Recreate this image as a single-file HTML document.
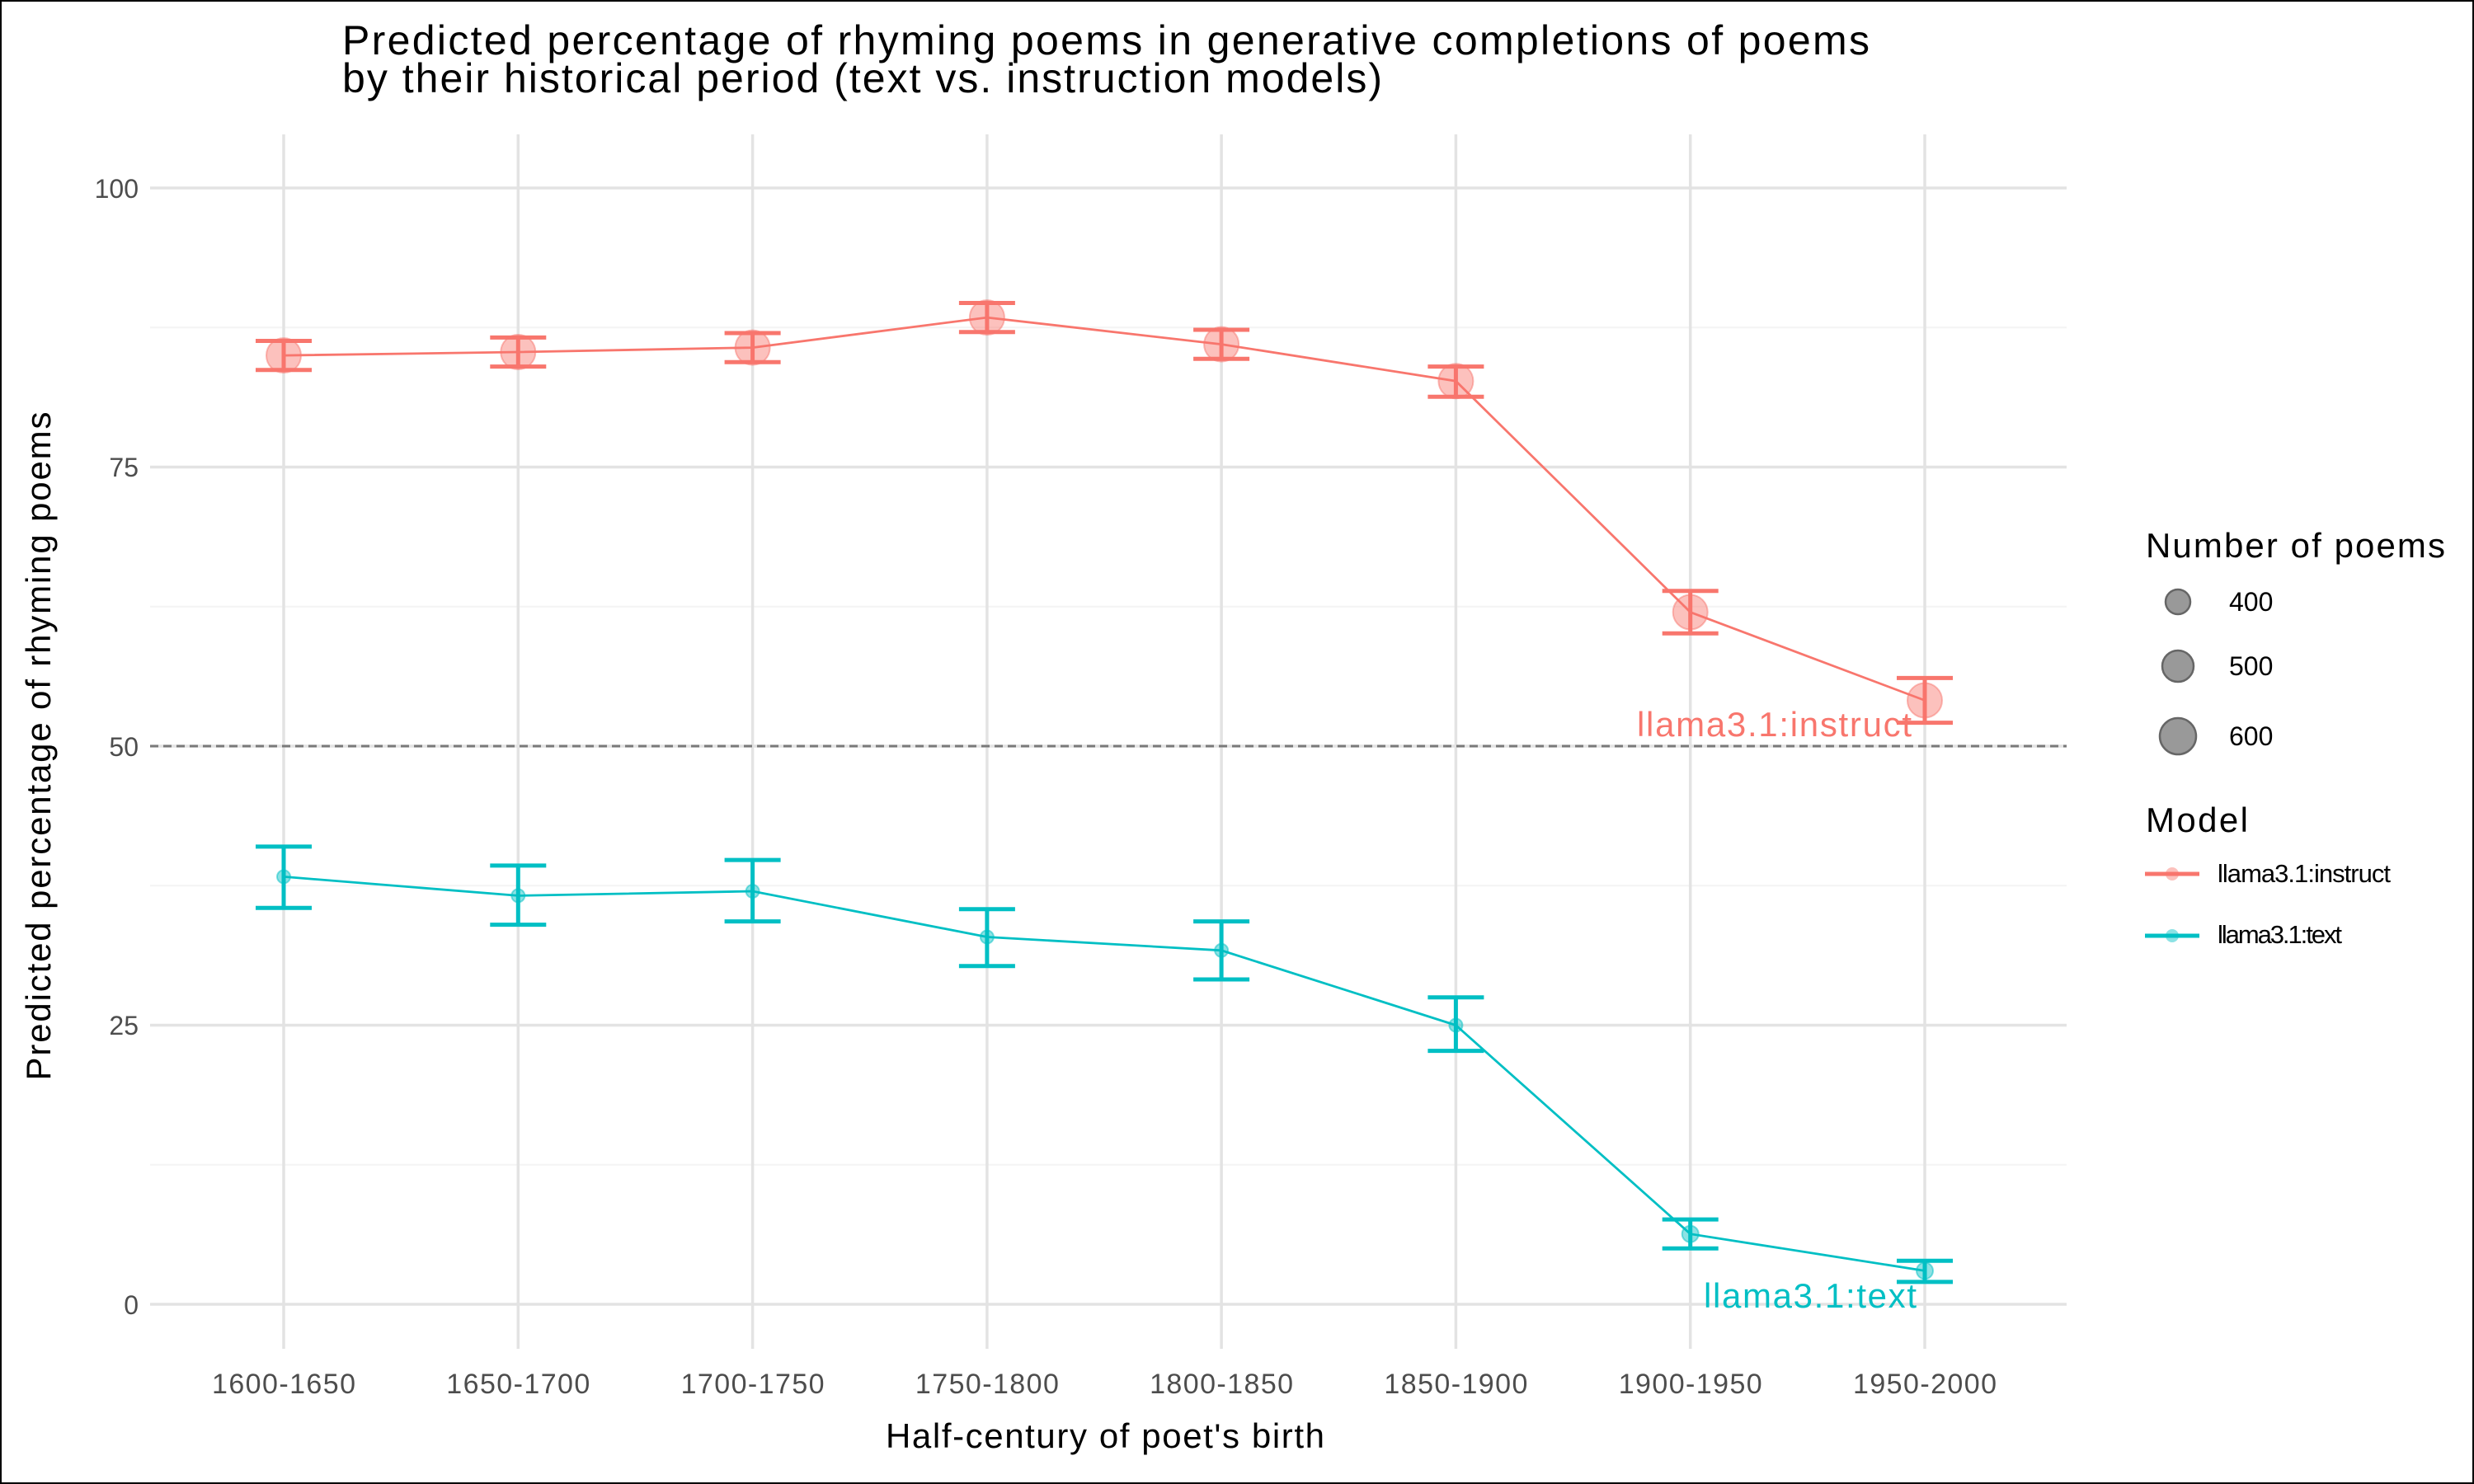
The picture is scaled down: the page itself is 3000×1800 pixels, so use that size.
<!DOCTYPE html>
<html><head><meta charset="utf-8"><style>body{margin:0;background:#fff}svg{display:block}</style></head><body>
<svg width="3000" height="1800" viewBox="0 0 3000 1800" xmlns="http://www.w3.org/2000/svg" font-family="Liberation Sans, sans-serif">
<rect x="0" y="0" width="3000" height="1800" fill="#fff" stroke="#000" stroke-width="4"/>
<g stroke="#f4f4f4" stroke-width="2">
<line x1="182" x2="2506" y1="1412.8" y2="1412.8"/><line x1="182" x2="2506" y1="1074.3" y2="1074.3"/>
<line x1="182" x2="2506" y1="735.8" y2="735.8"/><line x1="182" x2="2506" y1="397.3" y2="397.3"/>
</g>
<g stroke="#e3e3e3" stroke-width="3.5">
<line x1="182" x2="2506" y1="1582" y2="1582"/><line x1="182" x2="2506" y1="1243.5" y2="1243.5"/>
<line x1="182" x2="2506" y1="905" y2="905"/><line x1="182" x2="2506" y1="566.5" y2="566.5"/>
<line x1="182" x2="2506" y1="228" y2="228"/>
<line x1="344" x2="344" y1="163" y2="1636"/><line x1="628.3" x2="628.3" y1="163" y2="1636"/>
<line x1="912.6" x2="912.6" y1="163" y2="1636"/><line x1="1196.9" x2="1196.9" y1="163" y2="1636"/>
<line x1="1481.1" x2="1481.1" y1="163" y2="1636"/><line x1="1765.4" x2="1765.4" y1="163" y2="1636"/>
<line x1="2049.7" x2="2049.7" y1="163" y2="1636"/><line x1="2334" x2="2334" y1="163" y2="1636"/>
</g>
<line x1="182" x2="2506" y1="905" y2="905" stroke="#7a7a7a" stroke-width="3" stroke-dasharray="10,6"/>
<g font-size="32" fill="#4d4d4d" text-anchor="end">
<text x="168" y="1594">0</text><text x="168" y="1255">25</text><text x="168" y="917">50</text>
<text x="168" y="578">75</text><text x="168" y="240">100</text>
</g>
<g font-size="34" fill="#4d4d4d" text-anchor="middle" lengthAdjust="spacingAndGlyphs">
<text x="344" y="1690" textLength="174">1600-1650</text><text x="628.3" y="1690" textLength="174">1650-1700</text><text x="912.6" y="1690" textLength="174">1700-1750</text>
<text x="1196.9" y="1690" textLength="174">1750-1800</text><text x="1481.1" y="1690" textLength="174">1800-1850</text><text x="1765.4" y="1690" textLength="174">1850-1900</text>
<text x="2049.7" y="1690" textLength="174">1900-1950</text><text x="2334" y="1690" textLength="174">1950-2000</text>
</g>
<text x="1074" y="1756" font-size="42" textLength="532">Half-century of poet's birth</text>
<text transform="translate(61,905) rotate(-90)" font-size="42" text-anchor="middle" textLength="811">Predicted percentage of rhyming poems</text>
<text x="415" y="66" font-size="50" textLength="1852">Predicted percentage of rhyming poems in generative completions of poems</text>
<text x="415" y="112" font-size="50" textLength="1261">by their historical period (text vs. instruction models)</text>
<g stroke="#f8766d" stroke-width="5" fill="none">
<path d="M310,448.7H378M344,448.7V413.5M310,413.5H378"/>
<path d="M594.3,444.6H662.3M628.3,444.6V409.4M594.3,409.4H662.3"/>
<path d="M878.6,439.2H946.6M912.6,439.2V404M878.6,404H946.6"/>
<path d="M1162.9,402.7H1230.9M1196.9,402.7V367.5M1162.9,367.5H1230.9"/>
<path d="M1447.1,435.2H1515.1M1481.1,435.2V400M1447.1,400H1515.1"/>
<path d="M1731.4,481.2H1799.4M1765.4,481.2V444.6M1731.4,444.6H1799.4"/>
<path d="M2015.7,768.3H2083.7M2049.7,768.3V716.8M2015.7,716.8H2083.7"/>
<path d="M2300,876.6H2368M2334,876.6V822.4M2300,822.4H2368"/>
</g>
<polyline fill="none" stroke="#f8766d" stroke-width="2.8" points="344,431.1 628.3,427 912.6,421.6 1196.9,385.1 1481.1,417.6 1765.4,462.2 2049.7,742.5 2334,849.5"/>
<g fill="#f8766d" fill-opacity="0.45" stroke="#f8766d" stroke-opacity="0.5" stroke-width="2">
<circle cx="344" cy="431.1" r="21"/><circle cx="628.3" cy="427" r="21"/><circle cx="912.6" cy="421.6" r="21"/>
<circle cx="1196.9" cy="385.1" r="21"/><circle cx="1481.1" cy="417.6" r="21"/><circle cx="1765.4" cy="462.2" r="21"/>
<circle cx="2049.7" cy="742.5" r="21"/><circle cx="2334" cy="849.5" r="21"/>
</g>
<g stroke="#00bfc4" stroke-width="5" fill="none">
<path d="M310,1101.3H378M344,1101.3V1026.9M310,1026.9H378"/>
<path d="M594.3,1121.6H662.3M628.3,1121.6V1049.9M594.3,1049.9H662.3"/>
<path d="M878.6,1117.6H946.6M912.6,1117.6V1043.1M878.6,1043.1H946.6"/>
<path d="M1162.9,1171.7H1230.9M1196.9,1171.7V1102.7M1162.9,1102.7H1230.9"/>
<path d="M1447.1,1188H1515.1M1481.1,1188V1117.6M1447.1,1117.6H1515.1"/>
<path d="M1731.4,1274.6H1799.4M1765.4,1274.6V1209.7M1731.4,1209.7H1799.4"/>
<path d="M2015.7,1514.3H2083.7M2049.7,1514.3V1479.1M2015.7,1479.1H2083.7"/>
<path d="M2300,1554.9H2368M2334,1554.9V1529.2M2300,1529.2H2368"/>
</g>
<polyline fill="none" stroke="#00bfc4" stroke-width="2.8" points="344,1063.4 628.3,1086.4 912.6,1081 1196.9,1136.5 1481.1,1152.8 1765.4,1243.5 2049.7,1496.7 2334,1541.4"/>
<g fill="#00bfc4" fill-opacity="0.45" stroke="#00bfc4" stroke-opacity="0.5" stroke-width="2">
<circle cx="344" cy="1063.4" r="8"/><circle cx="628.3" cy="1086.4" r="8"/><circle cx="912.6" cy="1081" r="8"/>
<circle cx="1196.9" cy="1136.5" r="8"/><circle cx="1481.1" cy="1152.8" r="8"/><circle cx="1765.4" cy="1243.5" r="8"/>
<circle cx="2049.7" cy="1496.7" r="10"/><circle cx="2334" cy="1541.4" r="10"/>
</g>
<text x="1985" y="893" font-size="42" fill="#f8766d" textLength="333">llama3.1:instruct</text>
<text x="2066" y="1586" font-size="42" fill="#00bfc4" textLength="258">llama3.1:text</text>
<text x="2602" y="676" font-size="42" textLength="363">Number of poems</text>
<g fill="#999" stroke="#666" stroke-width="2.5">
<circle cx="2641" cy="730" r="15"/><circle cx="2641" cy="808" r="19"/><circle cx="2641" cy="893" r="22"/>
</g>
<g font-size="32"><text x="2703" y="741">400</text><text x="2703" y="819">500</text><text x="2703" y="904">600</text></g>
<text x="2602" y="1009" font-size="42" textLength="124">Model</text>
<line x1="2601" x2="2667" y1="1060" y2="1060" stroke="#f8766d" stroke-width="5"/>
<circle cx="2634" cy="1060" r="8" fill="#f8766d" fill-opacity="0.45"/>
<line x1="2601" x2="2667" y1="1135" y2="1135" stroke="#00bfc4" stroke-width="5"/>
<circle cx="2634" cy="1135" r="8" fill="#00bfc4" fill-opacity="0.45"/>
<text x="2689" y="1070" font-size="31" textLength="210">llama3.1:instruct</text>
<text x="2689" y="1144" font-size="31" textLength="151">llama3.1:text</text>
</svg>
</body></html>
